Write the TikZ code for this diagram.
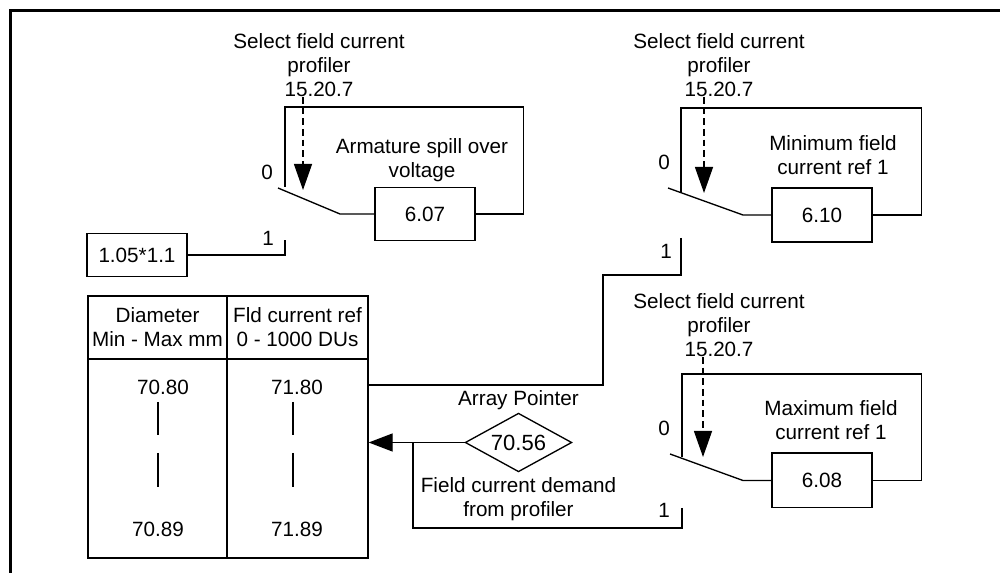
\documentclass[tikz,border=0pt]{standalone}
\usepackage{fontspec}
\setmainfont{Liberation Sans}
\usepackage{tikz}
\usetikzlibrary{shapes.geometric, arrows.meta, positioning}
\tikzstyle{valbox} = [rectangle,
minimum width=75pt,
minimum height=40pt,
inner sep=0pt,
draw=black, line width=1pt]
\tikzstyle{cell} = [rectangle,
align=center,
inner sep=0pt,
draw=black, line width=1pt]
\tikzstyle{pointer} = [diamond, aspect=2,
minimum width=80pt,
minimum height=44pt,
inner sep=0pt,
draw=black, line width=1pt]
\tikzstyle{lbl} = [align=center, inner sep=0pt]
\tikzstyle{wire} = [line width=1pt]
\tikzstyle{arrow} = [line width=1pt, -{Triangle[length=18pt, width=13.5pt]}]
\tikzstyle{selarrow} = [line width=1pt, dash pattern=on 5pt off 3pt, -{Triangle[length=19.5pt, width=13.5pt]}]

\begin{document}
\begin{tikzpicture}[x=0.75pt, y=-0.75pt, font=\fontsize{15.5}{18}\selectfont]
\useasboundingbox (0,0) rectangle (1000,573);
\draw[line width=2.25pt] (10.5,573) -- (10.5,10.5) -- (1000,10.5);

% armature spill over switch
\node (box607) [valbox] at (425,214) {6.07};
\node (sel1) [lbl] at (319,65) {Select field current\\profiler\\15.20.7};
\node (txt607) [lbl] at (422,160) {Armature spill over\\voltage};
\node (zero1) [lbl] at (267,172) {0};
\node (one1) [lbl] at (268,238) {1};
\node (k11) [valbox, minimum width=75pt, minimum height=32pt] at (137,255) {1.05*1.1};
\coordinate (blade1) at (278,188);
\coordinate (pivot1) at (340,214);
\coordinate (loop1) at (285,187);
\coordinate (cont1) at (285,240);
\coordinate (sw1) at (303,190);
\draw[wire] (box607.east) -- ++(48,0) |- (loop1 |- 0,107) -- (loop1);
\draw[wire] (box607.west) -- (pivot1) -- (blade1);
\draw[wire] (k11.east) -| (cont1);
\draw[selarrow] (sel1.south -| sw1) -- (sw1);

% minimum field switch
\node (box610) [valbox, minimum height=40.5pt] at (822,215) {6.10};
\node (sel2) [lbl] at (719,65) {Select field current\\profiler\\15.20.7};
\node (txt610) [lbl] at (833,155) {Minimum field\\current ref 1};
\node (zero2) [lbl] at (664,162) {0};
\node (one2) [lbl] at (666,251) {1};
\coordinate (blade2) at (668,188);
\coordinate (pivot2) at (743,215);
\coordinate (loop2) at (681,192);
\coordinate (cont2) at (681,238);
\coordinate (sw2) at (704,193);
\draw[wire] (box610.east) -- ++(49,0) |- (loop2 |- 0,108) -- (loop2);
\draw[wire] (box610.west) -- (pivot2) -- (blade2);
\draw[selarrow] (sel2.south -| sw2) -- (sw2);

% maximum field switch
\node (box608) [valbox, minimum height=41pt] at (822,480.5) {6.08};
\node (sel3) [lbl] at (719,325) {Select field current\\profiler\\15.20.7};
\node (txt608) [lbl] at (831,420) {Maximum field\\current ref 1};
\node (zero3) [lbl] at (664,428) {0};
\node (one3) [lbl] at (664,510) {1};
\coordinate (blade3) at (670,454);
\coordinate (pivot3) at (743,480.5);
\coordinate (loop3) at (682,457);
\coordinate (cont3) at (682,508);
\coordinate (sw3) at (703,457);
\draw[wire] (box608.east) -- ++(49,0) |- (loop3 |- 0,374) -- (loop3);
\draw[wire] (box608.west) -- (pivot3) -- (blade3);
\draw[selarrow] (sel3.south -| sw3) -- (sw3);

% profile table
\node (hdia) [cell, minimum width=104.25pt, minimum height=47.25pt] at (157.5,327.5) {Diameter\\Min - Max mm};
\node (hfld) [cell, minimum width=105.75pt, minimum height=47.25pt] at (297.5,327.5) {Fld current ref\\0 - 1000 DUs};
\node (bdia) [cell, minimum width=104.25pt, minimum height=149.25pt] at (157.5,458.5) {};
\node (bfld) [cell, minimum width=105.75pt, minimum height=149.25pt] at (297.5,458.5) {};
\node (dmin) [lbl] at (163,387) {70.80};
\node (dmax) [lbl] at (158,529) {70.89};
\node (fmin) [lbl] at (297,387) {71.80};
\node (fmax) [lbl] at (297,529) {71.89};
\draw[wire] (158,402) -- (158,435);
\draw[wire] (158,453) -- (158,487);
\draw[wire] (293,402) -- (293,435);
\draw[wire] (293,453) -- (293,487);

% array pointer
\node (ptr) [pointer, font=\fontsize{16.5}{18}\selectfont] at (518.5,442.5) {70.56};
\node (ptrlbl) [lbl, above=2pt of ptr] {Array Pointer};
\node (dmdlbl) [lbl, below=3.5pt of ptr] {Field current demand\\from profiler};
\coordinate (jn) at (413,442.5);
\coordinate (bend2) at (603,275);
\coordinate (tabrow) at (603,385);
\coordinate (bend3) at (682,528);
\draw[arrow] (ptr.west) -- (ptr.west -| bfld.east);
\draw[wire] (cont2) |- (bend2) -- (tabrow) -- (tabrow -| bfld.east);
\draw[wire] (cont3) -- (bend3) -| (jn);
\end{tikzpicture}
\end{document}
